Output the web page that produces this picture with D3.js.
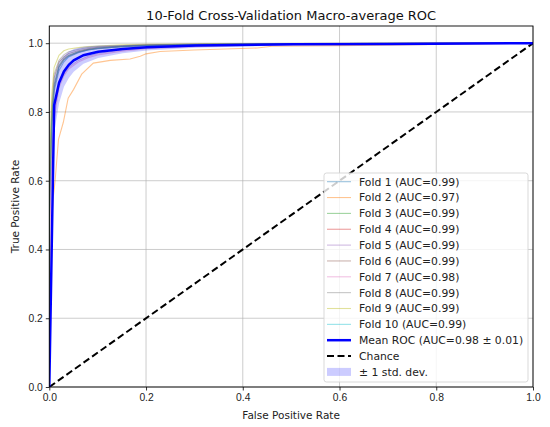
<!DOCTYPE html>
<html>
<head>
<meta charset="utf-8">
<script src="https://cdn.jsdelivr.net/npm/d3@7"></script>
<style>
  body { margin: 0; background: #fff; }
  svg { font-family: "DejaVu Sans", sans-serif; }
  .tick text { font-size: 10.3px; fill: #222; }
  .grid line { stroke: #b0b0b0; stroke-width: 0.9; stroke-opacity: 0.7; }
</style>
</head>
<body>
<div id="chart"></div>
<script>
// per-fold ROC curves (shared fpr grid, fold 2 has its own)
const foldFpr = [0, 0, 0.005, 0.01, 0.02, 0.03, 0.04, 0.06, 0.08, 0.1, 0.15, 0.2, 0.3, 0.45, 0.6, 0.8, 1.0];
const fold1 = [0, 0.5, 0.75, 0.86, 0.92, 0.945, 0.96, 0.972, 0.98, 0.984, 0.99, 0.993, 0.996, 0.998, 0.999, 1, 1];
const fold3 = [0, 0.55, 0.78, 0.88, 0.935, 0.955, 0.965, 0.975, 0.982, 0.986, 0.991, 0.994, 0.996, 0.998, 0.999, 1, 1];
const fold4 = [0, 0.48, 0.76, 0.87, 0.93, 0.952, 0.963, 0.974, 0.981, 0.985, 0.99, 0.993, 0.996, 0.998, 0.999, 1, 1];
const fold5 = [0, 0.4, 0.68, 0.8, 0.88, 0.91, 0.93, 0.95, 0.962, 0.97, 0.98, 0.986, 0.992, 0.996, 0.998, 1, 1];
const fold6 = [0, 0.52, 0.8, 0.9, 0.945, 0.96, 0.97, 0.978, 0.984, 0.988, 0.992, 0.995, 0.997, 0.998, 0.999, 1, 1];
const fold7 = [0, 0.38, 0.65, 0.78, 0.87, 0.905, 0.925, 0.945, 0.958, 0.966, 0.977, 0.984, 0.99, 0.995, 0.998, 1, 1];
const fold8 = [0, 0.6, 0.82, 0.91, 0.95, 0.966, 0.975, 0.982, 0.987, 0.99, 0.993, 0.995, 0.997, 0.998, 0.999, 1, 1];
const fold9 = [0, 0.62, 0.85, 0.93, 0.965, 0.978, 0.983, 0.987, 0.99, 0.992, 0.995, 0.997, 0.998, 0.999, 1, 1, 1];
const fold10 = [0, 0.5, 0.77, 0.87, 0.93, 0.95, 0.962, 0.974, 0.98, 0.985, 0.99, 0.993, 0.996, 0.998, 0.999, 1, 1];

const fold2Fpr = [0, 0, 0.004, 0.008, 0.012, 0.019, 0.029, 0.039, 0.05, 0.067, 0.091, 0.126, 0.167, 0.188, 0.2, 0.229, 0.3, 0.43, 0.46, 0.6, 0.8, 1.0];
const fold2 = [0, 0.3, 0.45, 0.55, 0.6, 0.72, 0.77, 0.84, 0.865, 0.91, 0.942, 0.95, 0.954, 0.962, 0.969, 0.976, 0.98, 0.986, 0.991, 0.993, 0.996, 1.0];

const foldAuc = ["0.99", "0.97", "0.99", "0.99", "0.99", "0.99", "0.98", "0.99", "0.99", "0.99"];
const foldColors = ["#1f77b4", "#ff7f0e", "#2ca02c", "#d62728", "#9467bd", "#8c564b", "#e377c2", "#7f7f7f", "#bcbd22", "#17becf"];

// mean ROC and std
const meanFpr = [0, 0.0101, 0.0202, 0.0303, 0.0404, 0.0505, 0.0707, 0.101, 0.152, 0.202, 0.303, 0.505, 0.707, 1.0];
const meanTpr = [0, 0.82, 0.885, 0.918, 0.937, 0.95, 0.965, 0.975, 0.983, 0.988, 0.993, 0.997, 0.998, 1.0];
const stdTpr = [0, 0.08, 0.06, 0.045, 0.038, 0.033, 0.025, 0.018, 0.012, 0.009, 0.006, 0.003, 0.002, 0];

const ticks = [0, 0.2, 0.4, 0.6, 0.8, 1.0];

const W = 550, H = 427;
const margin = { top: 26, right: 17, bottom: 40, left: 49.3 };
const width = W - margin.left - margin.right;
const height = H - margin.top - margin.bottom;

const svg = d3.select("#chart").append("svg")
  .attr("width", W).attr("height", H);
const g = svg.append("g")
  .attr("transform", "translate(" + margin.left + "," + margin.top + ")");

const x = d3.scaleLinear().domain([0, 1]).range([0, width]);
const y = d3.scaleLinear().domain([0, 1.05]).range([height, 0]);

// grid
g.append("g").attr("class", "grid")
  .selectAll("line.vx").data(ticks).enter().append("line")
  .attr("x1", d => x(d)).attr("x2", d => x(d))
  .attr("y1", 0).attr("y2", height);
g.append("g").attr("class", "grid")
  .selectAll("line.hy").data(ticks).enter().append("line")
  .attr("x1", 0).attr("x2", width)
  .attr("y1", d => y(d)).attr("y2", d => y(d));

g.append("clipPath").attr("id", "clip")
  .append("rect").attr("width", width).attr("height", height);
const plot = g.append("g").attr("clip-path", "url(#clip)");

const line = d3.line().x(d => x(d[0])).y(d => y(d[1]));

const foldTprs = [fold1, fold2, fold3, fold4, fold5, fold6, fold7, fold8, fold9, fold10];
const foldData = foldTprs.map((t, i) => {
  const f = i === 1 ? fold2Fpr : foldFpr;
  return f.map((v, j) => [v, t[j]]);
});

plot.selectAll(".fold").data(foldData).enter().append("path")
  .attr("class", "fold")
  .attr("d", line)
  .attr("fill", "none")
  .attr("stroke", (d, i) => foldColors[i])
  .attr("stroke-opacity", 0.45)
  .attr("stroke-width", 1.1);

// chance
plot.append("path")
  .attr("d", line([[0, 0], [1, 1]]))
  .attr("stroke", "#000").attr("stroke-width", 2)
  .attr("stroke-dasharray", "7,3.5").attr("fill", "none");

// mean
const meanData = meanFpr.map((f, i) => [f, meanTpr[i]]);
plot.append("path")
  .attr("d", line(meanData))
  .attr("fill", "none").attr("stroke", "#0000ff")
  .attr("stroke-width", 2.5);

// std band
const area = d3.area()
  .x((d, i) => x(meanFpr[i]))
  .y0((d, i) => y(Math.max(meanTpr[i] - stdTpr[i], 0)))
  .y1((d, i) => y(Math.min(meanTpr[i] + stdTpr[i], 1)));
plot.append("path")
  .attr("d", area(meanFpr))
  .attr("fill", "#0000ff").attr("fill-opacity", 0.2);

// axes
const xAxis = d3.axisBottom(x).tickValues(ticks).tickFormat(d3.format(".1f")).tickSize(3.5).tickPadding(3);
const yAxis = d3.axisLeft(y).tickValues(ticks).tickFormat(d3.format(".1f")).tickSize(3.5).tickPadding(3);
const gx = g.append("g").attr("transform", "translate(0," + height + ")").call(xAxis);
const gy = g.append("g").call(yAxis);
[gx, gy].forEach(a => {
  a.select(".domain").remove();
  a.selectAll(".tick line").attr("stroke", "#000").attr("stroke-width", 0.8);
});

g.append("rect")
  .attr("width", width).attr("height", height)
  .attr("fill", "none").attr("stroke", "#000").attr("stroke-width", 0.9);

// labels
svg.append("text")
  .attr("x", margin.left + width / 2).attr("y", 20)
  .attr("text-anchor", "middle").attr("font-size", 13).attr("fill", "#111")
  .text("10-Fold Cross-Validation Macro-average ROC");
svg.append("text")
  .attr("x", margin.left + width / 2).attr("y", 419)
  .attr("text-anchor", "middle").attr("font-size", 10.5).attr("fill", "#222")
  .text("False Positive Rate");
svg.append("text")
  .attr("transform", "translate(19," + (margin.top + height / 2) + ") rotate(-90)")
  .attr("text-anchor", "middle").attr("font-size", 10.5).attr("fill", "#222")
  .text("True Positive Rate");

// legend
const legendItems = foldAuc.map((a, i) => ({ label: "Fold " + (i + 1) + " (AUC=" + a + ")", type: "fold", color: foldColors[i] }))
  .concat([
    { label: "Mean ROC (AUC=0.98 \u00b1 0.01)", type: "mean" },
    { label: "Chance", type: "chance" },
    { label: "\u00b1 1 std. dev.", type: "band" }
  ]);

const lg = svg.append("g").attr("transform", "translate(324,173)");
lg.append("rect")
  .attr("width", 204).attr("height", 209).attr("rx", 2.5)
  .attr("fill", "#fff").attr("fill-opacity", 0.8)
  .attr("stroke", "#d5d5d5").attr("stroke-width", 0.9);

const rowH = 15.85;
const items = lg.selectAll(".item").data(legendItems).enter().append("g")
  .attr("transform", (d, i) => "translate(0," + (8.7 + i * rowH) + ")");

items.filter(d => d.type !== "band").append("line")
  .attr("x1", 3).attr("x2", 27).attr("y1", 0).attr("y2", 0)
  .attr("stroke", d => d.type === "fold" ? d.color : d.type === "mean" ? "#0000ff" : "#000")
  .attr("stroke-opacity", d => d.type === "fold" ? 0.45 : 1)
  .attr("stroke-width", d => d.type === "fold" ? 1.1 : d.type === "mean" ? 2.5 : 2)
  .attr("stroke-dasharray", d => d.type === "chance" ? "7,3.5" : null);
items.filter(d => d.type === "band").append("rect")
  .attr("x", 3).attr("y", -4).attr("width", 24).attr("height", 8)
  .attr("fill", "#0000ff").attr("fill-opacity", 0.2);
items.append("text")
  .attr("x", 35).attr("y", 3.9)
  .attr("font-size", 10.8).attr("fill", "#222")
  .text(d => d.label);
</script>
</body>
</html>
